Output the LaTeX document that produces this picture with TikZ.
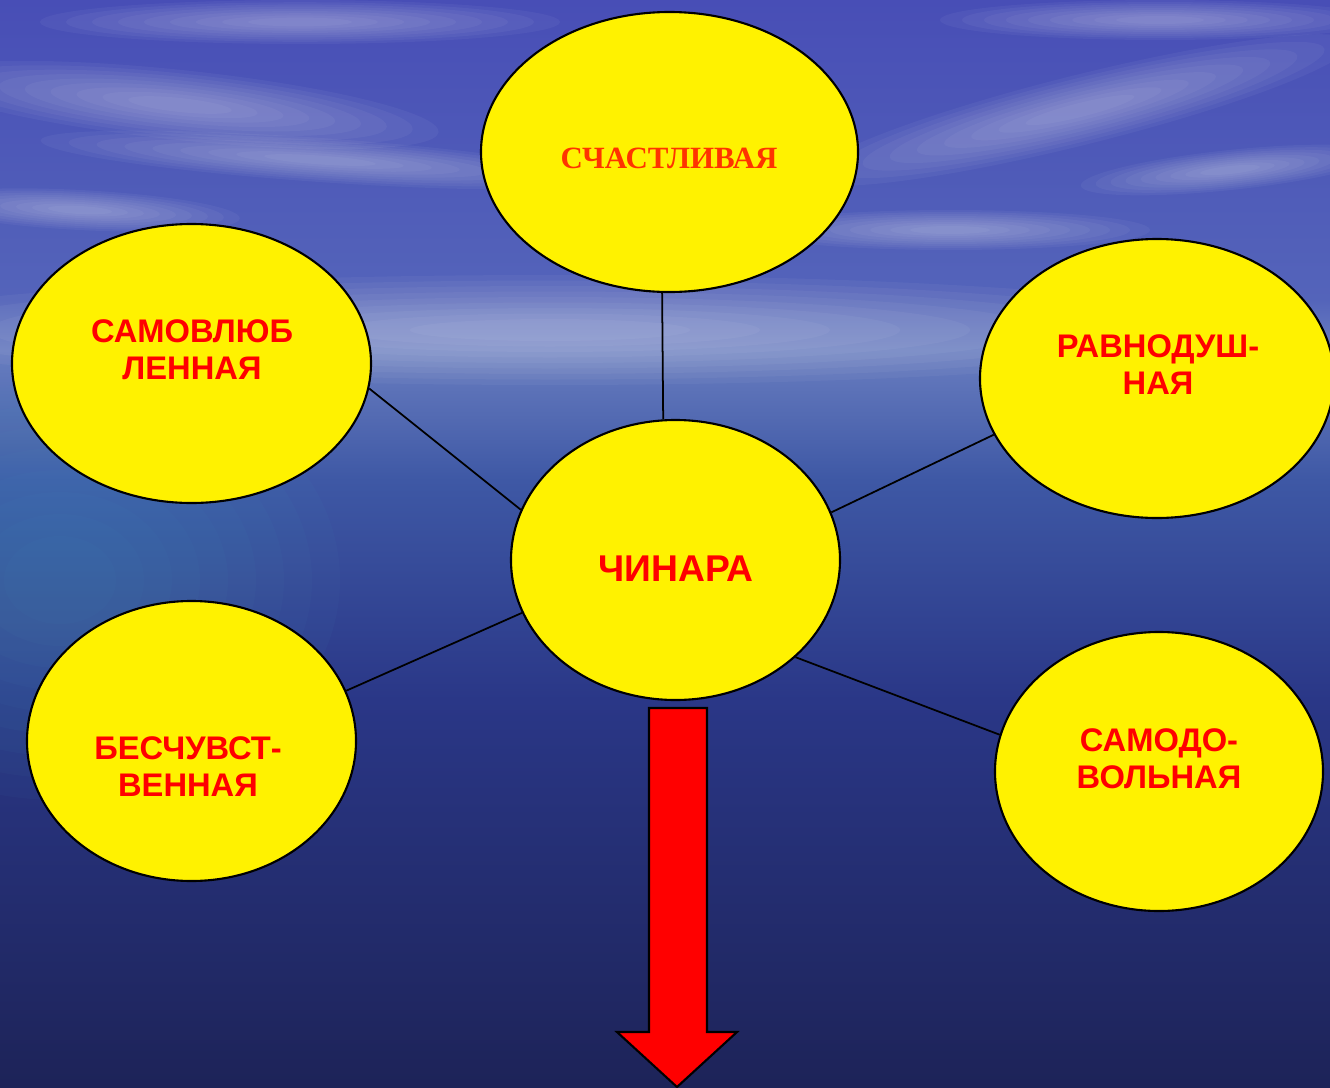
\documentclass[tikz,border=0pt]{standalone}
\usepackage{fontspec}
\setmainfont{Liberation Serif}
\setsansfont{Liberation Sans}
\usetikzlibrary{shapes}

\definecolor{skyA}{RGB}{72,78,182}
\definecolor{skyB}{RGB}{84,100,186}
\definecolor{haze}{RGB}{105,125,192}
\definecolor{seaA}{RGB}{62,88,165}
\definecolor{seaB}{RGB}{42,55,135}
\definecolor{seaC}{RGB}{29,35,88}
\definecolor{tealhaze}{RGB}{80,160,195}
\definecolor{orangered}{RGB}{255,51,0}

% soft streak: x, y, half width, half height, angle, colour
\newcommand{\softstreak}[6]{%
    \foreach \k in {1.0,0.9,0.8,0.7,0.6,0.5,0.4,0.3,0.2}
        \fill[#6, opacity=0.045, rotate around={#5:(#1,#2)}] (#1,#2) ellipse ({#3*\k} and {#4*\k});}

\begin{document}
\begin{tikzpicture}[
    bubble/.style={ellipse, draw, line width=0.6pt, fill=yellow, inner sep=0pt},
    word/.style={font=\sffamily\bfseries\fontsize{9.3}{10.5}\selectfont, text=red, align=center, inner sep=0pt}
]
        \useasboundingbox (0,0) rectangle (13.3,-10.88);

        % sky and sea
        \shade[top color=skyA, bottom color=skyB] (0,0) rectangle (13.3,-3.0);
        \shade[top color=skyB, bottom color=haze] (0,-3.0) rectangle (13.3,-3.5);
        \shade[top color=haze, bottom color=seaA] (0,-3.5) rectangle (13.3,-4.8);
        \shade[top color=seaA, bottom color=seaB] (0,-4.8) rectangle (13.3,-7.0);
        \shade[top color=seaB, bottom color=seaC] (0,-7.0) rectangle (13.3,-10.88);

        \softstreak{3.0}{-0.22}{2.6}{0.22}{0}{white}
        \softstreak{1.8}{-1.05}{2.6}{0.35}{-6}{white}
        \softstreak{3.2}{-1.6}{2.8}{0.22}{-4}{white}
        \softstreak{0.8}{-2.1}{1.6}{0.2}{-3}{white}
        \softstreak{10.8}{-1.1}{2.8}{0.35}{14}{white}
        \softstreak{11.6}{-0.2}{2.2}{0.2}{0}{white}
        \softstreak{12.3}{-1.7}{1.5}{0.2}{6}{white}
        \softstreak{9.5}{-2.3}{2.0}{0.2}{0}{white}
        \softstreak{5.5}{-3.3}{7.0}{0.55}{0}{white}
        \softstreak{0.6}{-5.8}{2.8}{2.2}{0}{tealhaze}

        % ellipses
        \node[bubble, minimum width=3.77cm, minimum height=2.80cm] (sch) at (6.695,-1.52) {};
        \node[bubble, minimum width=3.59cm, minimum height=2.79cm] (sam) at (1.915,-3.635) {};
        \node[bubble, minimum width=3.54cm, minimum height=2.79cm] (rav) at (11.57,-3.785) {};
        \node[bubble, minimum width=3.29cm, minimum height=2.80cm] (chin) at (6.755,-5.60) {};
        \node[bubble, minimum width=3.29cm, minimum height=2.80cm] (bes) at (1.915,-7.41) {};
        \node[bubble, minimum width=3.28cm, minimum height=2.79cm] (samd) at (11.59,-7.715) {};

        \node[font=\rmfamily\bfseries\fontsize{8.8}{10}\selectfont, text=orangered, inner sep=0pt] (schT) at (6.69,-1.58) {СЧАСТЛИВАЯ};
        \node[word] (samT) at (1.92,-3.495) {САМОВЛЮБ\\ЛЕННАЯ};
        \node[word] (ravT) at (11.58,-3.65) {РАВНОДУШ-\\НАЯ};
        \node[word, font=\sffamily\bfseries\fontsize{10.6}{12}\selectfont] (chinT) at (6.76,-5.69) {ЧИНАРА};
        \node[word] (besT) at (1.88,-7.665) {БЕСЧУВСТ-\\ВЕННАЯ};
        \node[word] (samdT) at (11.59,-7.585) {САМОДО-\\ВОЛЬНАЯ};

        \draw[line width=0.5pt] (sch.-93) to (chin.95.4)
            (sam.-8.5) to (chin.162)
            (rav.-161.2) to (chin.17.4)
            (bes.18.9) to (chin.199.5)
            (samd.167.4) to (chin.-39.1);

        % big arrow
        \draw[line width=0.6pt, fill=red] (6.49,-7.08) -- (7.07,-7.08) -- (7.07,-10.32)
            -- (7.37,-10.32) -- (6.77,-10.87) -- (6.17,-10.32) -- (6.49,-10.32) -- cycle;
    \end{tikzpicture}
\end{document}
